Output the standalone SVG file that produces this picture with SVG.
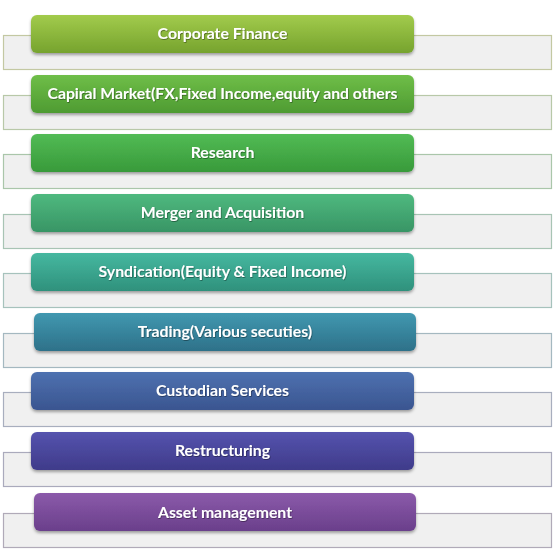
<svg xmlns="http://www.w3.org/2000/svg" width="554" height="551" viewBox="0 0 554 551">
<defs>
<style>
.bg{fill:#f0f0f0;stroke-width:1.2}
.pill{stroke:none;filter:url(#sh)}
.lbl{font-family:Lato,"Open Sans","Liberation Sans",sans-serif;font-weight:bold;font-size:15.8px;fill:#ffffff;text-anchor:middle;filter:url(#tsh)}
</style>
<filter id="sh" x="-5%" y="-20%" width="110%" height="150%">
<feDropShadow dx="0" dy="2" stdDeviation="1.5" flood-color="#000" flood-opacity="0.35"/>
</filter>
<filter id="tsh" x="-5%" y="-30%" width="110%" height="160%">
<feDropShadow dx="0.6" dy="0.8" stdDeviation="0.6" flood-color="#000" flood-opacity="0.45"/>
</filter>
<linearGradient id="g1" x1="0" y1="0" x2="0" y2="1"><stop offset="0" stop-color="#a2cb4c"/><stop offset="1" stop-color="#76a32e"/></linearGradient>
<linearGradient id="g2" x1="0" y1="0" x2="0" y2="1"><stop offset="0" stop-color="#6fbe48"/><stop offset="1" stop-color="#4e9b32"/></linearGradient>
<linearGradient id="g3" x1="0" y1="0" x2="0" y2="1"><stop offset="0" stop-color="#52bb55"/><stop offset="1" stop-color="#389a3a"/></linearGradient>
<linearGradient id="g4" x1="0" y1="0" x2="0" y2="1"><stop offset="0" stop-color="#4fb97f"/><stop offset="1" stop-color="#389565"/></linearGradient>
<linearGradient id="g5" x1="0" y1="0" x2="0" y2="1"><stop offset="0" stop-color="#46b8a0"/><stop offset="1" stop-color="#2f917c"/></linearGradient>
<linearGradient id="g6" x1="0" y1="0" x2="0" y2="1"><stop offset="0" stop-color="#4198b0"/><stop offset="1" stop-color="#2e7189"/></linearGradient>
<linearGradient id="g7" x1="0" y1="0" x2="0" y2="1"><stop offset="0" stop-color="#4e71b0"/><stop offset="1" stop-color="#3a5590"/></linearGradient>
<linearGradient id="g8" x1="0" y1="0" x2="0" y2="1"><stop offset="0" stop-color="#5553ae"/><stop offset="1" stop-color="#3f3b8a"/></linearGradient>
<linearGradient id="g9" x1="0" y1="0" x2="0" y2="1"><stop offset="0" stop-color="#8b5aaa"/><stop offset="1" stop-color="#6a3f8b"/></linearGradient>
</defs>
<rect width="554" height="551" fill="#ffffff"/>
<g id="connectors"/>
<g id="n1"><rect class="bg" x="3.5" y="35.5" width="548" height="34" stroke="#c3c8a2"/><rect class="pill" x="31" y="15" width="383" height="38" rx="6" fill="url(#g1)"/><text class="lbl" x="222.5" y="38.5">Corporate Finance</text></g>
<g id="n2"><rect class="bg" x="3.5" y="95.5" width="548" height="34" stroke="#b8c8a8"/><rect class="pill" x="31" y="75" width="383" height="38" rx="6" fill="url(#g2)"/><text class="lbl" x="222.5" y="98.5" textLength="350" lengthAdjust="spacingAndGlyphs">Capiral Market(FX,Fixed Income,equity and others</text></g>
<g id="n3"><rect class="bg" x="3.5" y="154.5" width="548" height="34" stroke="#aac6aa"/><rect class="pill" x="31" y="134" width="383" height="38" rx="6" fill="url(#g3)"/><text class="lbl" x="222.5" y="157.5">Research</text></g>
<g id="n4"><rect class="bg" x="3.5" y="214.5" width="548" height="34" stroke="#a8c4b4"/><rect class="pill" x="31" y="194" width="383" height="38" rx="6" fill="url(#g4)"/><text class="lbl" x="222.5" y="217.5">Merger and Acquisition</text></g>
<g id="n5"><rect class="bg" x="3.5" y="273.5" width="548" height="34" stroke="#a6c2bc"/><rect class="pill" x="31" y="253" width="383" height="38" rx="6" fill="url(#g5)"/><text class="lbl" x="222.5" y="276.5">Syndication(Equity &amp; Fixed Income)</text></g>
<g id="n6"><rect class="bg" x="3.5" y="333.5" width="548" height="34" stroke="#a4b8c0"/><rect class="pill" x="34" y="313" width="382" height="38" rx="6" fill="url(#g6)"/><text class="lbl" x="225" y="336.5">Trading(Various secuties)</text></g>
<g id="n7"><rect class="bg" x="3.5" y="392.5" width="548" height="34" stroke="#a8aebe"/><rect class="pill" x="31" y="372" width="383" height="38" rx="6" fill="url(#g7)"/><text class="lbl" x="222.5" y="395.5">Custodian Services</text></g>
<g id="n8"><rect class="bg" x="3.5" y="452.5" width="548" height="34" stroke="#aaaabc"/><rect class="pill" x="31" y="432" width="383" height="38" rx="6" fill="url(#g8)"/><text class="lbl" x="222.5" y="455.5">Restructuring</text></g>
<g id="n9"><rect class="bg" x="3.5" y="513.5" width="548" height="34" stroke="#b0aab8"/><rect class="pill" x="34" y="493" width="382" height="38" rx="6" fill="url(#g9)"/><text class="lbl" x="225" y="517.5">Asset management</text></g>
</svg>
